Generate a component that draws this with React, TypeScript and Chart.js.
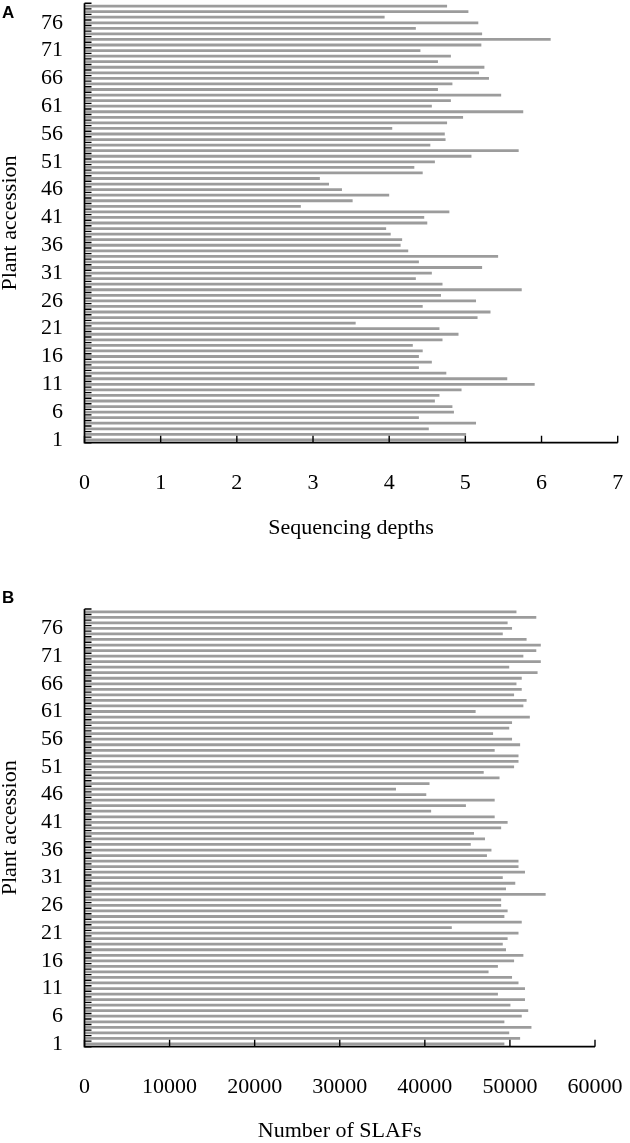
import React, { useEffect, useRef } from 'react';
import { Chart, registerables } from 'chart.js';

Chart.register(...registerables);

// Categories: plant accessions 1..79 (bottom to top)
const accessions = [
  '1', '2', '3', '4', '5', '6', '7', '8', '9', '10',
  '11', '12', '13', '14', '15', '16', '17', '18', '19', '20',
  '21', '22', '23', '24', '25', '26', '27', '28', '29', '30',
  '31', '32', '33', '34', '35', '36', '37', '38', '39', '40',
  '41', '42', '43', '44', '45', '46', '47', '48', '49', '50',
  '51', '52', '53', '54', '55', '56', '57', '58', '59', '60',
  '61', '62', '63', '64', '65', '66', '67', '68', '69', '70',
  '71', '72', '73', '74', '75', '76', '77', '78', '79',
];

// Category tick labels that are shown
const accessionTickLabels = ['1', '6', '11', '16', '21', '26', '31', '36', '41', '46', '51', '56', '61', '66', '71', '76'];

// Panel A: sequencing depths
const sequencingDepths = [
  5.00, 5.01, 4.52, 5.14, 4.39, 4.85, 4.83, 4.60, 4.66, 4.95,
  5.91, 5.55, 4.75, 4.39, 4.56, 4.39, 4.44, 4.31, 4.70, 4.91,
  4.66, 3.56, 5.16, 5.33, 4.44, 5.14, 4.68, 5.74, 4.70, 4.35,
  4.56, 5.22, 4.39, 5.43, 4.25, 4.15, 4.17, 4.02, 3.96, 4.50,
  4.46, 4.79, 2.84, 3.52, 4.00, 3.38, 3.21, 3.09, 4.44, 4.33,
  4.60, 5.08, 5.70, 4.54, 4.74, 4.73, 4.04, 4.76, 4.97, 5.76,
  4.56, 4.81, 5.47, 4.64, 4.83, 5.31, 5.18, 5.25, 4.64, 4.81,
  4.41, 5.21, 6.12, 5.22, 4.35, 5.17, 3.94, 5.04, 4.76,
];
const depthAxisMin = 0;
const depthAxisMax = 7;
const depthAxisStep = 1;

// Panel B: number of SLAFs
const slafCounts = [
  49350, 51200, 49920, 52530, 49350, 51390, 52150, 50060, 51770, 48590,
  51770, 51010, 50250, 47490, 48590, 50490, 51580, 49540, 49160, 49730,
  51010, 43170, 51390, 49350, 49730, 48970, 48970, 54200, 49540, 50630,
  49160, 51770, 51010, 51010, 47300, 47830, 45400, 47070, 45780, 48970,
  49730, 48210, 40740, 44830, 48210, 40170, 36610, 40550, 48780, 46920,
  50490, 51010, 51010, 48210, 51200, 50250, 48020, 49920, 50250, 52340,
  45970, 51580, 51960, 50490, 51390, 50770, 51390, 53250, 49920, 53630,
  51580, 53100, 53630, 51960, 49160, 50250, 49730, 53100, 50770,
];
const slafAxisMin = 0;
const slafAxisMax = 60000;
const slafAxisStep = 10000;

const SERIF = "'Liberation Serif', 'Times New Roman', Times, serif";
const BAR_COLOR = '#9c9c9c';

const framePlugin = {
  id: 'frame',
  afterDatasetsDraw(chart: any) {
    const { ctx, chartArea: a, scales } = chart;
    const xs = scales.x;
    const ys = scales.y;
    ctx.save();
    ctx.strokeStyle = '#000';
    ctx.lineWidth = 1.7;
    ctx.beginPath();
    ctx.moveTo(a.left, a.top);
    ctx.lineTo(a.left, a.bottom);
    ctx.lineTo(a.right, a.bottom);
    ctx.stroke();
    ctx.lineWidth = 1.4;
    ctx.beginPath();
    xs.ticks.forEach((_: any, i: number) => {
      const px = xs.getPixelForTick(i);
      ctx.moveTo(px, a.bottom);
      ctx.lineTo(px, a.bottom - 7);
    });
    const n = ys.ticks.length;
    const band = (a.bottom - a.top) / n;
    for (let i = 0; i <= n; i++) {
      const py = a.top + i * band;
      ctx.moveTo(a.left, py);
      ctx.lineTo(a.left + 7, py);
    }
    ctx.stroke();
    ctx.restore();
  },
};

type PanelProps = {
  values: number[];
  min: number;
  max: number;
  step: number;
  title: string;
  width: number;
  height: number;
  padTop: number;
  padRight: number;
  xAxisHeight: number;
  titlePadBottom: number;
  titleLineHeight: number;
};

function Panel(p: PanelProps) {
  const ref = useRef<HTMLCanvasElement | null>(null);
  useEffect(() => {
    if (!ref.current) return;
    const chart = new Chart(ref.current, {
      type: 'bar',
      data: {
        labels: accessions,
        datasets: [
          {
            data: p.values,
            backgroundColor: BAR_COLOR,
            borderWidth: 0,
            categoryPercentage: 1,
            barPercentage: 0.5,
          },
        ],
      },
      options: {
        indexAxis: 'y',
        responsive: false,
        animation: false,
        devicePixelRatio: 1,
        layout: { padding: { top: p.padTop, right: p.padRight, bottom: 0, left: 0 } },
        plugins: { legend: { display: false }, tooltip: { enabled: false } },
        scales: {
          x: {
            type: 'linear',
            min: p.min,
            max: p.max,
            afterFit: (s: any) => {
              s.height = p.xAxisHeight;
              s.paddingLeft = 0;
              s.paddingRight = 0;
            },
            ticks: {
              stepSize: p.step,
              padding: 27,
              color: '#000',
              font: { family: SERIF, size: 22 },
              callback: (v: any) => String(v),
            },
            grid: { display: false, drawTicks: false },
            border: { display: false },
            title: {
              display: true,
              text: p.title,
              color: '#000',
              font: { family: SERIF, size: 22, lineHeight: p.titleLineHeight },
              padding: { top: 0, bottom: p.titlePadBottom },
            },
          },
          y: {
            type: 'category',
            reverse: true,
            afterFit: (s: any) => {
              s.width = 84.5;
              s.paddingTop = 0;
              s.paddingBottom = 0;
            },
            ticks: {
              autoSkip: false,
              padding: 21.5,
              color: '#000',
              font: { family: SERIF, size: 22 },
              callback: function (this: any, _v: any, i: number) {
                const lab = accessions[i];
                return accessionTickLabels.includes(lab) ? lab : '';
              },
            },
            grid: { display: false, drawTicks: false },
            border: { display: false },
            title: {
              display: true,
              text: 'Plant accession',
              color: '#000',
              font: { family: SERIF, size: 22, lineHeight: 0.9 },
              padding: { top: 0, bottom: 0 },
            },
          },
        },
      },
      plugins: [framePlugin],
    } as any);
    return () => chart.destroy();
  }, []);
  return <canvas ref={ref} width={p.width} height={p.height} style={{ display: 'block', width: p.width, height: p.height }} />;
}

const letterStyle: React.CSSProperties = {
  position: 'absolute',
  left: 2,
  fontFamily: "'Liberation Sans', Arial, sans-serif",
  fontWeight: 'bold',
  fontSize: 17,
  lineHeight: '17px',
  color: '#000',
};

export default function App() {
  return (
    <div style={{ position: 'absolute', left: 0, top: 0, width: 630, height: 1143, background: '#fff' }}>
      <div style={{ position: 'absolute', left: 0, top: 0 }}>
        <Panel
          values={sequencingDepths}
          min={depthAxisMin}
          max={depthAxisMax}
          step={depthAxisStep}
          title="Sequencing depths"
          width={630}
          height={560}
          padTop={3.3}
          padRight={12.3}
          xAxisHeight={117.3}
          titlePadBottom={19}
          titleLineHeight={1.2}
        />
      </div>
      <div style={{ position: 'absolute', left: 0, top: 560 }}>
        <Panel
          values={slafCounts}
          min={slafAxisMin}
          max={slafAxisMax}
          step={slafAxisStep}
          title="Number of SLAFs"
          width={630}
          height={583}
          padTop={49}
          padRight={35}
          xAxisHeight={96.3}
          titlePadBottom={0.3}
          titleLineHeight={1}
        />
      </div>
      <div style={{ ...letterStyle, top: 4 }}>A</div>
      <div style={{ ...letterStyle, top: 589 }}>B</div>
    </div>
  );
}
